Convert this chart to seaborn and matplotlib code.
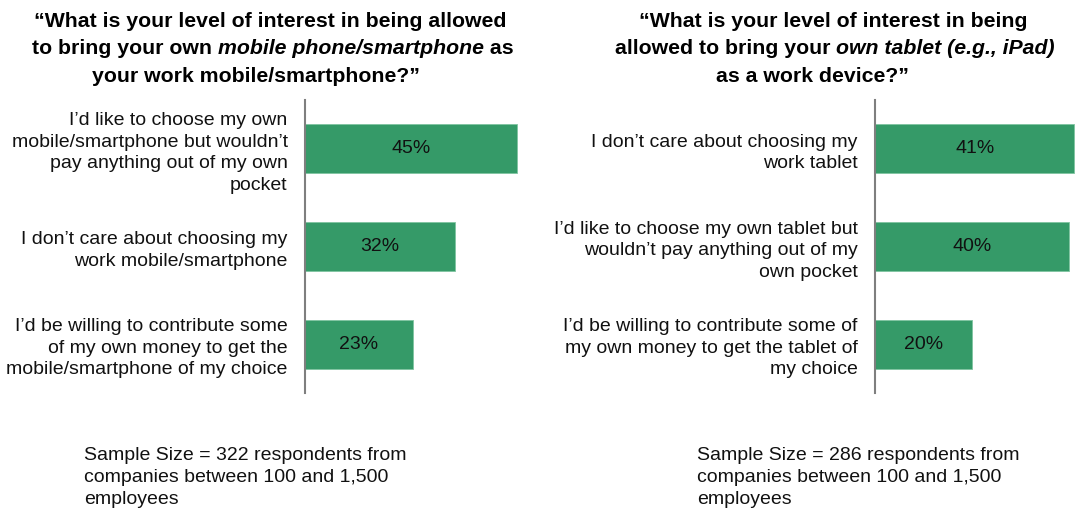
import matplotlib
matplotlib.use("Agg")
import matplotlib.pyplot as plt
import seaborn as sns
import pandas as pd

sns.set_theme(style="white")
plt.rcParams['font.family'] = ['Liberation Sans', 'DejaVu Sans']

# ---- data ----
phone_categories = [
    "I\u2019d like to choose my own\nmobile/smartphone but wouldn\u2019t\npay anything out of my own\npocket",
    "I don\u2019t care about choosing my\nwork mobile/smartphone",
    "I\u2019d be willing to contribute some\nof my own money to get the\nmobile/smartphone of my choice",
]
phone_values = [45, 32, 23]

tablet_categories = [
    "I don\u2019t care about choosing my\nwork tablet",
    "I\u2019d like to choose my own tablet but\nwouldn\u2019t pay anything out of my\nown pocket",
    "I\u2019d be willing to contribute some of\nmy own money to get the tablet of\nmy choice",
]
tablet_values = [41, 40, 20]

# title lines as (text, style) pieces
phone_title = [
    [("\u201cWhat is your level of interest in being allowed", "normal")],
    [("to bring your own ", "normal"), ("mobile phone/smartphone", "italic"), (" as", "normal")],
    [("your work mobile/smartphone?\u201d", "normal")],
]
tablet_title = [
    [("\u201cWhat is your level of interest in being", "normal")],
    [("allowed to bring your ", "normal"), ("own tablet (e.g., iPad)", "italic")],
    [("as a work device?\u201d", "normal")],
]

phone_note = "Sample Size = 322 respondents from\ncompanies between 100 and 1,500\nemployees"
tablet_note = "Sample Size = 286 respondents from\ncompanies between 100 and 1,500\nemployees"

GREEN = "#359a68"
TXT = "#111111"
W, H = 1087, 514
fig = plt.figure(figsize=(W / 100, H / 100), dpi=100)
renderer = fig.canvas.get_renderer()


def panel(left_px, right_px, cats, vals, xmax):
    ax = fig.add_axes([left_px / W, (H - 393) / H, (right_px - left_px) / W, 293 / H])
    df = pd.DataFrame({"cat": cats, "val": vals})
    sns.barplot(data=df, x="val", y="cat", orient="h", color=GREEN, width=0.5,
                saturation=1, ax=ax, edgecolor="#7fc4a0", linewidth=0.6)
    ax.set_xlim(0, xmax)
    ax.set_ylim(2.5, -0.5)
    ax.set_xlabel("")
    ax.set_ylabel("")
    ax.set_xticks([])
    for s in ["top", "right", "bottom"]:
        ax.spines[s].set_visible(False)
    ax.spines["left"].set_color("#7f7f7f")
    ax.spines["left"].set_linewidth(1.5)
    ax.tick_params(axis="y", length=0, pad=12.5, labelsize=14, labelcolor=TXT)
    for lbl in ax.get_yticklabels():
        lbl.set_linespacing(1.34)
    for p, v in zip(ax.patches, vals):
        ax.text(p.get_x() + p.get_width() / 2, p.get_y() + p.get_height() / 2,
                f"{v}%", ha="center", va="center", fontsize=14, color=TXT)
    ax.set_facecolor("white")
    return ax


def rich_title(lines, centers, baselines, fs=15.3):
    for pieces, xc, yb in zip(lines, centers, baselines):
        texts = []
        for s, style in pieces:
            t = fig.text(0, 1 - yb / H, s, fontsize=fs, fontweight="bold",
                         fontstyle=style, ha="left", va="baseline", color="black")
            texts.append(t)
        widths = [t.get_window_extent(renderer).width for t in texts]
        x = xc - sum(widths) / 2
        for t, w in zip(texts, widths):
            t.set_x(x / W)
            x += w


panel(305, 540, phone_categories, phone_values, 50)
panel(875, 1084, tablet_categories, tablet_values, 43)

rich_title(phone_title, [270, 273, 256], [27, 54.5, 82])
rich_title(tablet_title, [833, 835, 812], [27, 54.5, 82])

fig.text(84 / W, 1 - 447 / H, phone_note, ha="left", va="top", fontsize=14,
         linespacing=1.39, color=TXT)
fig.text(697 / W, 1 - 447 / H, tablet_note, ha="left", va="top", fontsize=14,
         linespacing=1.39, color=TXT)

fig.savefig("out.png", dpi=100, facecolor="white")
